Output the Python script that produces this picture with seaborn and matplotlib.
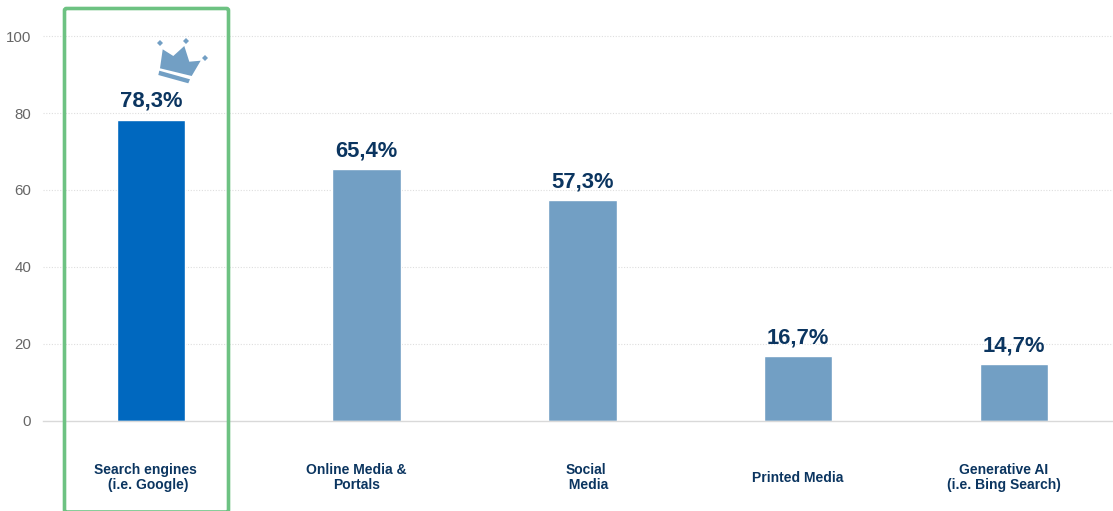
import matplotlib
matplotlib.use("Agg")
import matplotlib.pyplot as plt
import numpy as np
import pandas as pd
import seaborn as sns
from matplotlib.patches import FancyBboxPatch, Polygon
from matplotlib.transforms import Affine2D

categories = ["Search engines\n (i.e. Google)", "Online Media &\nPortals", "Social\n Media",
              "Printed Media", "Generative AI\n(i.e. Bing Search)"]
values = [78.3, 65.4, 57.3, 16.7, 14.7]
value_labels = ["78,3%", "65,4%", "57,3%", "16,7%", "14,7%"]
y_ticks = [0, 20, 40, 60, 80, 100]

NAVY = "#0B3560"
LIGHT_BLUE = "#729FC4"
STRONG_BLUE = "#0068BF"
GREEN = "#6DC282"

sns.set_theme(style="white")
plt.rcParams["font.family"] = ["Liberation Sans", "DejaVu Sans"]

W, H = 1113, 511
fig = plt.figure(figsize=(W / 100, H / 100), dpi=100, facecolor="white")
ax = fig.add_axes([43 / W, 1 - 420.5 / H, (W - 43) / W, 420.5 / H])

frame = pd.DataFrame({"category": categories, "value": values})
sns.barplot(data=frame, x="category", y="value", hue="category", legend=False, ax=ax,
            palette=[STRONG_BLUE] + [LIGHT_BLUE] * 4, width=0.317, saturation=1)

ax.set_xlim(-0.5, 4.46)
ax.set_ylim(0, 109.45)
ax.set_yticks(y_ticks)
ax.set_xlabel("")
ax.set_ylabel("")
ax.set_xticks([])
ax.grid(False)
for y in y_ticks[1:]:
    ax.axhline(y, color="#DEDEDE", lw=0.8, ls=(0, (1, 1.5)), zorder=0)
for side in ["top", "right", "left"]:
    ax.spines[side].set_visible(False)
ax.spines["bottom"].set_color("#D9D9D9")
ax.spines["bottom"].set_linewidth(1.0)
ax.tick_params(axis="y", length=0, pad=8.5, labelsize=10.8, labelcolor="#666666")

# Value captions above the bars
for i, (v, text) in enumerate(zip(values, value_labels)):
    ax.annotate(text, xy=(i, v), xytext=(0, 8), textcoords="offset pixels",
                ha="center", va="bottom", fontsize=15.8, fontweight="bold", color=NAVY)

# Category captions sit below the baseline, slightly off-centre as laid out on the slide
shifts = [-5, -10, 4, 0, -10]
for i, (label, dx) in enumerate(zip(categories, shifts)):
    ax.annotate(label, xy=(i, 0), xytext=(dx, -57), textcoords="offset pixels",
                ha="center", va="center", fontsize=10, fontweight="bold",
                color=NAVY, linespacing=1.1, annotation_clip=False)

# Highlight frame around the leading category, in pixel coordinates
pixel = Affine2D().scale(1, -1).translate(0, H)
fig.add_artist(FancyBboxPatch((64.5, 8.5), 164, 503.5, boxstyle="round,pad=0,rounding_size=2",
                              fill=False, ec=GREEN, lw=2.6, transform=pixel))

# Crown icon
crown = [(160, 68.3), (162.7, 49.3), (173.3, 56), (184.3, 46), (189.3, 61.7), (200.7, 60.7), (191.7, 76)]
band = [(159.3, 70.7), (190, 79.3), (188.3, 83.3), (158.3, 75)]
gems = [(160, 43), (186, 41), (205, 58)]
for shape in (crown, band):
    fig.add_artist(Polygon(shape, closed=True, fc=LIGHT_BLUE, ec="none", transform=pixel))
for gx, gy in gems:
    gem = [(gx - 3, gy), (gx, gy - 3), (gx + 3, gy), (gx, gy + 3)]
    fig.add_artist(Polygon(gem, closed=True, fc=LIGHT_BLUE, ec="none", transform=pixel))

fig.savefig("out.png", dpi=100)
